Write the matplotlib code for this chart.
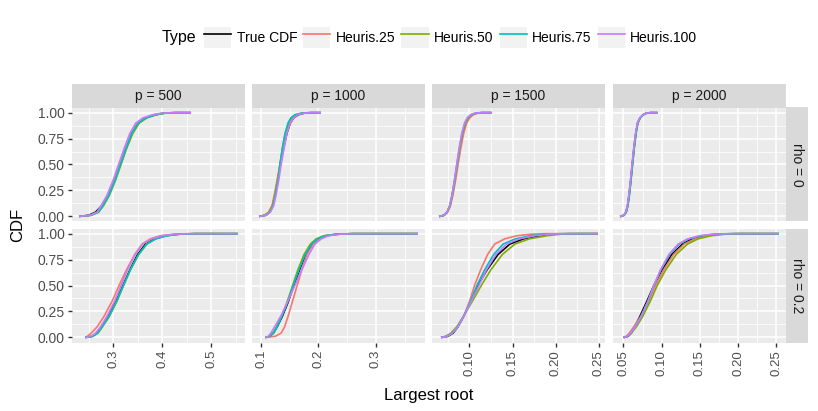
import numpy as np
import matplotlib.pyplot as plt
from matplotlib.lines import Line2D
from matplotlib.patches import Rectangle
from matplotlib.legend_handler import HandlerTuple

plt.rcParams['font.family'] = ['Liberation Sans', 'DejaVu Sans']

# ---- data ----
series = ["True CDF", "Heuris.25", "Heuris.50", "Heuris.75", "Heuris.100"]
colors = ["black", "#F8766D", "#7CAE00", "#00BFC4", "#C77CFF"]
p_values = [500, 1000, 1500, 2000]
rho_values = [0, 0.2]

# CDF levels; each series lists the largest root at these levels
# (first = start of curve, second-to-last = where it reaches 1, last = end of grid)
levels = [0, 0.01, 0.04, 0.1, 0.2, 0.35, 0.5, 0.65, 0.8, 0.9, 0.95, 0.98, 0.995, 1.0, 1.0]

rho0_p500 = {
    "True CDF":   [.232, .250, .264, .276, .289, .303, .315, .326, .339, .352, .367, .386, .404, .425, .457],
    "Heuris.25":  [.232, .253, .267, .277, .289, .302, .313, .324, .336, .349, .364, .383, .401, .422, .457],
    "Heuris.50":  [.232, .255, .270, .280, .292, .305, .316, .327, .340, .353, .369, .388, .406, .428, .457],
    "Heuris.75":  [.232, .255, .270, .279, .291, .304, .315, .326, .338, .351, .367, .386, .404, .426, .457],
    "Heuris.100": [.232, .253, .267, .275, .287, .300, .311, .322, .334, .346, .361, .380, .398, .420, .457],
}
rho0_p1000 = {
    "True CDF":   [.098, .107, .114, .120, .124, .129, .134, .139, .145, .151, .157, .165, .175, .188, .203],
    "Heuris.25":  [.098, .106, .113, .119, .123, .128, .133, .138, .144, .150, .156, .163, .173, .186, .203],
    "Heuris.50":  [.098, .107, .114, .120, .124, .129, .133, .137, .142, .148, .153, .160, .171, .184, .203],
    "Heuris.75":  [.098, .109, .116, .121, .125, .130, .133, .137, .142, .147, .152, .159, .170, .183, .203],
    "Heuris.100": [.098, .109, .116, .122, .126, .131, .135, .140, .145, .151, .157, .164, .174, .187, .203],
}
rho0_p1500 = {
    "True CDF":   [.0657, .0705, .0742, .0773, .0800, .0831, .0858, .0887, .0921, .0955, .0989, .1030, .1080, .1140, .1246],
    "Heuris.25":  [.0657, .0706, .0745, .0778, .0807, .0840, .0868, .0898, .0933, .0968, .1003, .1045, .1097, .1160, .1246],
    "Heuris.50":  [.0657, .0706, .0744, .0775, .0802, .0831, .0857, .0885, .0918, .0952, .0985, .1025, .1077, .1140, .1246],
    "Heuris.75":  [.0657, .0702, .0739, .0770, .0797, .0828, .0854, .0882, .0914, .0947, .0979, .1018, .1068, .1130, .1246],
    "Heuris.100": [.0657, .0704, .0740, .0770, .0797, .0826, .0852, .0879, .0911, .0943, .0974, .1012, .1061, .1120, .1246],
}
rho0_p2000 = {
    "True CDF":   [.0466, .0504, .0532, .0553, .0572, .0595, .0615, .0636, .0661, .0685, .0717, .0757, .0799, .0850, .0933],
    "Heuris.25":  [.0466, .0507, .0535, .0556, .0575, .0598, .0618, .0639, .0664, .0688, .0720, .0760, .0802, .0850, .0933],
    "Heuris.50":  [.0466, .0509, .0537, .0558, .0577, .0599, .0619, .0640, .0664, .0688, .0720, .0760, .0802, .0850, .0933],
    "Heuris.75":  [.0466, .0508, .0536, .0557, .0576, .0598, .0618, .0639, .0664, .0687, .0718, .0758, .0800, .0850, .0933],
    "Heuris.100": [.0466, .0501, .0529, .0550, .0569, .0592, .0612, .0633, .0658, .0682, .0714, .0754, .0796, .0845, .0933],
}
rho02_p500 = {
    "True CDF":   [.245, .257, .267, .276, .290, .306, .320, .334, .350, .366, .384, .405, .432, .465, .553],
    "Heuris.25":  [.245, .247, .255, .267, .281, .298, .312, .327, .344, .359, .376, .396, .423, .455, .553],
    "Heuris.50":  [.245, .258, .269, .278, .292, .308, .321, .335, .352, .368, .386, .408, .435, .468, .553],
    "Heuris.75":  [.245, .258, .268, .277, .291, .307, .321, .335, .352, .369, .387, .410, .437, .470, .553],
    "Heuris.100": [.245, .254, .264, .274, .287, .303, .316, .329, .345, .360, .378, .400, .427, .460, .553],
}
rho02_p1000 = {
    "True CDF":   [.109, .115, .1215, .128, .137, .148, .157, .167, .178, .189, .200, .213, .234, .260, .372],
    "Heuris.25":  [.109, .125, .135, .141, .147, .155, .163, .171, .180, .191, .201, .213, .234, .260, .372],
    "Heuris.50":  [.109, .115, .121, .127, .136, .146, .155, .164, .175, .186, .196, .209, .230, .255, .372],
    "Heuris.75":  [.109, .115, .1215, .128, .136, .147, .156, .166, .177, .188, .199, .212, .233, .258, .372],
    "Heuris.100": [.109, .1125, .117, .1235, .134, .147, .159, .171, .1835, .194, .205, .2175, .239, .265, .372],
}
rho02_p1500 = {
    "True CDF":   [.068, .075, .081, .0865, .0932, .1019, .1098, .1203, .1332, .1469, .1627, .1820, .1969, .215, .248],
    "Heuris.25":  [.068, .074, .080, .0863, .0932, .1002, .1059, .1129, .1211, .1293, .1407, .1547, .1706, .190, .248],
    "Heuris.50":  [.068, .0726, .0783, .0852, .0928, .1035, .1137, .1247, .1382, .1527, .1694, .1898, .2056, .225, .248],
    "Heuris.75":  [.068, .074, .080, .0863, .0932, .1013, .1086, .1175, .1281, .1391, .1531, .1703, .1859, .205, .248],
    "Heuris.100": [.068, .074, .080, .0863, .0932, .1023, .1109, .1196, .1307, .1430, .1579, .1762, .1914, .210, .248],
}
rho02_p2000 = {
    "True CDF":   [.0512, .0560, .0603, .0646, .0714, .0808, .0898, .1004, .1134, .1273, .1402, .1560, .1736, .195, .2525],
    "Heuris.25":  [.0512, .0535, .0576, .0633, .0725, .0830, .0920, .1026, .1156, .1295, .1434, .1604, .1782, .200, .2525],
    "Heuris.50":  [.0512, .0550, .0602, .0668, .0751, .0852, .0942, .1053, .1191, .1339, .1478, .1648, .1829, .205, .2525],
    "Heuris.75":  [.0512, .0550, .0596, .0651, .0731, .0821, .0898, .0990, .1105, .1229, .1358, .1516, .1689, .190, .2525],
    "Heuris.100": [.0512, .0550, .0596, .0651, .0731, .0821, .0898, .0985, .1095, .1216, .1341, .1494, .1668, .188, .2525],
}
panels = [[rho0_p500, rho0_p1000, rho0_p1500, rho0_p2000],
          [rho02_p500, rho02_p1000, rho02_p1500, rho02_p2000]]

x_ticks = [[0.3, 0.4, 0.5], [0.1, 0.2, 0.3],
           [0.10, 0.15, 0.20, 0.25], [0.05, 0.10, 0.15, 0.20, 0.25]]
x_ticklabels = [["0.3", "0.4", "0.5"], ["0.1", "0.2", "0.3"],
                ["0.10", "0.15", "0.20", "0.25"],
                ["0.05", "0.10", "0.15", "0.20", "0.25"]]
y_ticks = [0, 0.25, 0.5, 0.75, 1.0]
y_ticklabels = ["0.00", "0.25", "0.50", "0.75", "1.00"]

# ---- layout (pixels) ----
W, H = 818, 411
fig = plt.figure(figsize=(W / 100, H / 100), dpi=100)
fig.patch.set_facecolor("white")

col_left = [72, 252, 432, 613]
col_w = 173
row_top = [107.5, 228.5]
row_h = 114
strip_h = 23.5
strip_w = 22

def fbox(l, t, w, h):
    return [l / W, 1 - (t + h) / H, w / W, h / H]

for c in range(4):
    allx = [v for r in range(2) for s in series for v in panels[r][c][s]]
    lo, hi = min(allx), max(allx)
    pad = 0.05 * (hi - lo)
    xlim = (lo - pad, hi + pad)
    step = x_ticks[c][1] - x_ticks[c][0]
    xminor = np.arange(x_ticks[c][0] - 3.5 * step, xlim[1] + step, step)
    xminor = xminor[(xminor > xlim[0]) & (xminor < xlim[1])]
    for r in range(2):
        ax = fig.add_axes(fbox(col_left[c], row_top[r], col_w, row_h))
        ax.set_facecolor("#EBEBEB")
        for sp in ax.spines.values():
            sp.set_visible(False)
        data = panels[r][c]
        for s, col in zip(series, colors):
            ax.plot(data[s], levels, color=col, lw=1.2, solid_joinstyle="round")
        ax.set_xlim(*xlim)
        ax.set_ylim(-0.05, 1.05)
        ax.set_xticks(x_ticks[c])
        ax.set_xticks(xminor, minor=True)
        ax.set_yticks(y_ticks)
        ax.set_yticks([0.125, 0.375, 0.625, 0.875], minor=True)
        ax.grid(which="major", color="white", lw=1.1)
        ax.grid(which="minor", color="white", lw=0.55)
        ax.set_axisbelow(True)
        ax.tick_params(which="minor", length=0)
        ax.tick_params(which="major", length=2.8, width=1.0, color="#333333",
                       labelcolor="#4D4D4D", pad=2.5)
        if c == 0:
            ax.set_yticklabels(y_ticklabels, fontsize=10)
        else:
            ax.tick_params(axis="y", which="major", length=0, labelleft=False)
        if r == 1:
            ax.set_xticklabels(x_ticklabels[c], rotation=90, va="top", ha="center",
                               fontsize=9.5)
        else:
            ax.tick_params(axis="x", which="major", length=0, labelbottom=False)

    sax = fig.add_axes(fbox(col_left[c], row_top[0] - strip_h, col_w, strip_h))
    sax.set_facecolor("#D9D9D9")
    sax.set_xticks([]); sax.set_yticks([])
    for sp in sax.spines.values():
        sp.set_visible(False)
    sax.text(0.5, 0.5, f"p = {p_values[c]}", ha="center", va="center",
             fontsize=10, color="#1A1A1A", transform=sax.transAxes)

for r in range(2):
    sax = fig.add_axes(fbox(col_left[3] + col_w, row_top[r], strip_w, row_h))
    sax.set_facecolor("#D9D9D9")
    sax.set_xticks([]); sax.set_yticks([])
    for sp in sax.spines.values():
        sp.set_visible(False)
    sax.text(0.5, 0.5, f"rho = {rho_values[r]}", ha="center", va="center",
             rotation=-90, fontsize=10, color="#1A1A1A", transform=sax.transAxes)

fig.text(18 / W, 1 - 225 / H, "CDF", rotation=90, ha="center", va="center", fontsize=12)
fig.text(428.5 / W, 1 - 395 / H, "Largest root", ha="center", va="center", fontsize=12)

# legend
handles = [(Rectangle((0, 0), 1, 1, facecolor="#F2F2F2", edgecolor="none"),
            Line2D([], [], color=col, lw=1.2)) for col in colors]
fig.legend(handles, series, ncol=5, frameon=False, loc="center left",
           bbox_to_anchor=(204 / W, 1 - 37.5 / H), fontsize=10,
           handler_map={tuple: HandlerTuple(ndivide=1, pad=0)},
           handlelength=1.95, handleheight=1.95, handletextpad=0.4,
           columnspacing=0.43, borderpad=0, borderaxespad=0)
fig.text(161.5 / W, 1 - 37.5 / H, "Type", ha="left", va="center", fontsize=11.5)

fig.savefig("out.png", dpi=100)
